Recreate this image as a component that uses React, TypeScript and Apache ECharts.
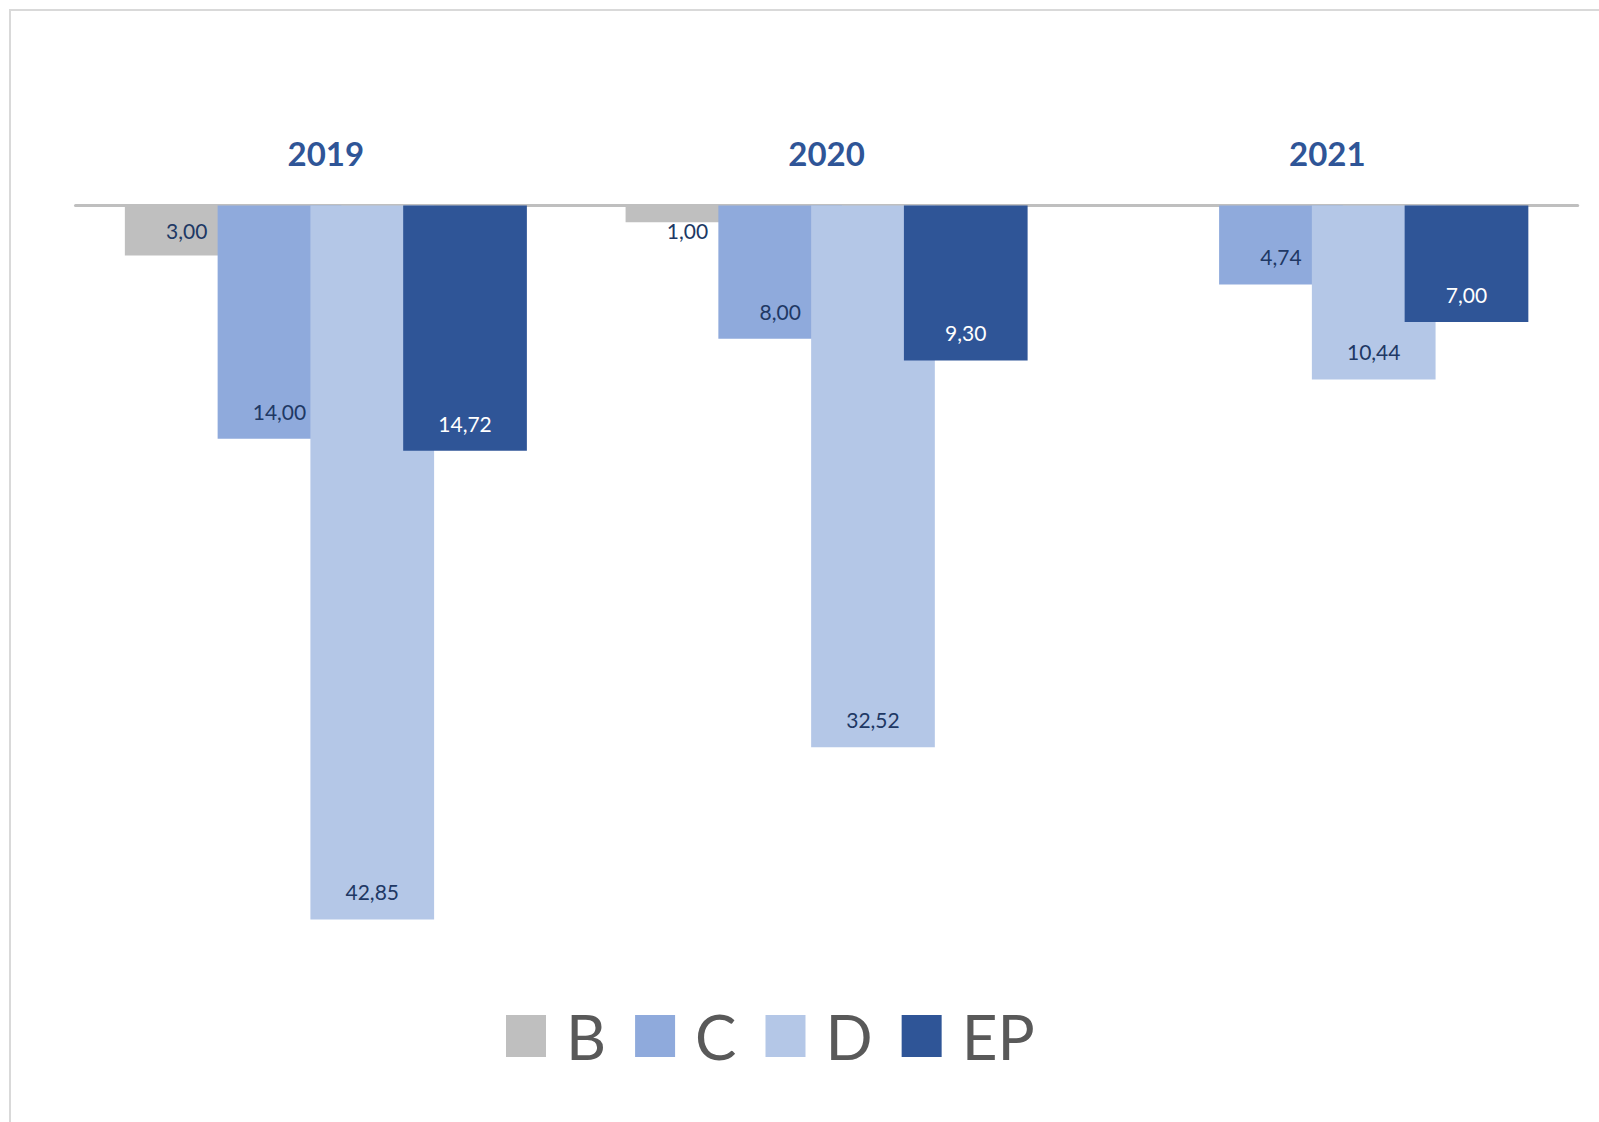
import React, { useEffect, useRef } from "react";
import * as echarts from "echarts";

const years = ["2019", "2020", "2021"];
const seriesNames = ["B", "C", "D", "EP"];
const valuesB = [3.0, 1.0, null];
const valuesC = [14.0, 8.0, 4.74];
const valuesD = [42.85, 32.52, 10.44];
const valuesEP = [14.72, 9.3, 7.0];
const colors = ["#bfbfbf", "#8faadc", "#b4c7e7", "#2f5597"];

const FONT = "Lato";
const fmt = (p: any) => {
  const v = Array.isArray(p.value) ? p.value[1] : p.value;
  if (v === null || v === undefined || v === "-") return "";
  return Number(v).toFixed(2).replace(".", ",");
};

export default function App() {
  const ref = useRef<HTMLDivElement>(null);
  useEffect(() => {
    if (!ref.current) return;
    const chart = echarts.init(ref.current, null, { renderer: "svg" });
    const allValues = [valuesB, valuesC, valuesD, valuesEP];
    const series = allValues.map((vals, i) => ({
      name: seriesNames[i],
      type: "bar",
      data: vals,
      barWidth: 123.7,
      barGap: "-25%",
      itemStyle: { color: colors[i] },
      label: {
        show: true,
        position: i === 0 ? "insideTop" : "insideBottom",
        distance: i === 0 ? 14 : 17,
        formatter: fmt,
        fontFamily: FONT,
        fontSize: 21,
        color: i === 3 ? "#ffffff" : "#203864",
      },
    }));
    chart.setOption({
      animation: false,
      backgroundColor: "#ffffff",
      textStyle: { fontFamily: FONT },
      graphic: [
        {
          type: "rect",
          shape: { x: 10, y: 10, width: 1700, height: 1300 },
          style: { fill: "none", stroke: "#d9d9d9", lineWidth: 2 },
          silent: true,
          z: -10,
        },
      ],
      grid: { left: 75.5, width: 1502.2, top: 205.5, height: 749.7, containLabel: false },
      xAxis: {
        type: "category",
        data: years,
        position: "top",
        offset: 2,
        axisTick: { show: false },
        axisLine: { show: true, lineStyle: { color: "#bfbfbf", width: 3 } },
        axisLabel: {
          fontFamily: FONT,
          fontSize: 33,
          fontWeight: "bold",
          color: "#2f5597",
          margin: 51,
          verticalAlign: "middle",
        },
        splitLine: { show: false },
      },
      yAxis: {
        type: "value",
        inverse: true,
        min: 0,
        max: 45,
        show: false,
        splitLine: { show: false },
      },
      legend: {
        data: seriesNames,
        left: 501,
        top: 996,
        icon: "rect",
        itemWidth: 40,
        itemHeight: 42,
        itemGap: 29,
        textStyle: {
          fontFamily: FONT,
          fontSize: 62,
          lineHeight: 70,
          color: "#595959",
          padding: [0, 0, 0, 15],
        },
        selectedMode: false,
      },
      series,
    });
    return () => chart.dispose();
  }, []);
  return (
    <div
      ref={ref}
      style={{ position: "absolute", left: 0, top: 0, width: 1599, height: 1122 }}
    />
  );
}
